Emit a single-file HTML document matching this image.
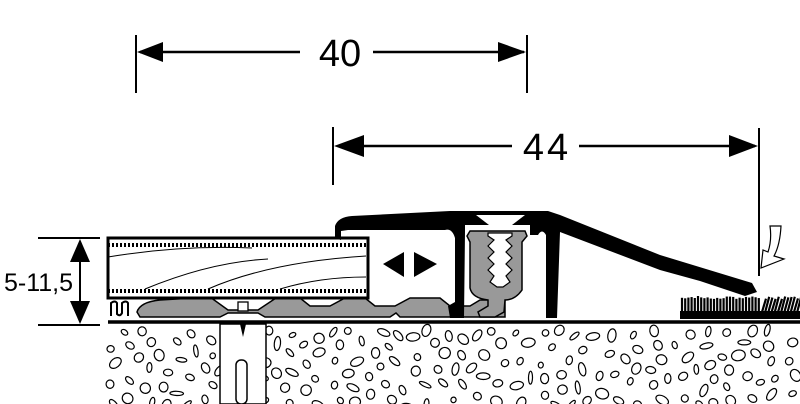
<!DOCTYPE html>
<html><head><meta charset="utf-8"><style>
html,body{margin:0;padding:0;background:#fff;}
svg{display:block;}
text{font-family:"Liberation Sans",sans-serif;fill:#000;}
</style></head><body>
<svg id="s" width="800" height="404" viewBox="0 0 800 404" xmlns="http://www.w3.org/2000/svg">
<!-- dimension 40 -->
<line x1="136" y1="35" x2="136" y2="93" stroke="#000" stroke-width="2"/>
<line x1="527" y1="35" x2="527" y2="93" stroke="#000" stroke-width="2"/>
<line x1="140" y1="52" x2="300" y2="52" stroke="#000" stroke-width="2.5"/>
<line x1="373" y1="52" x2="524" y2="52" stroke="#000" stroke-width="2.5"/>
<polygon points="137,52 163,42 163,62"/>
<polygon points="526,52 498,42 498,62"/>
<text x="340" y="66" font-size="38" text-anchor="middle">40</text>
<!-- dimension 44 -->
<line x1="333" y1="127" x2="333" y2="185" stroke="#000" stroke-width="2"/>
<line x1="759" y1="128" x2="759" y2="276" stroke="#000" stroke-width="2"/>
<line x1="338" y1="146" x2="512" y2="146" stroke="#000" stroke-width="2.5"/>
<line x1="579" y1="146" x2="755" y2="146" stroke="#000" stroke-width="2.5"/>
<polygon points="334,146 364,135 364,157"/>
<polygon points="758,146 729,135 729,157"/>
<text x="547" y="160" font-size="38" text-anchor="middle" letter-spacing="3">44</text>
<!-- height dim -->
<line x1="38" y1="238" x2="100" y2="238" stroke="#000" stroke-width="2"/>
<line x1="38" y1="325" x2="100" y2="325" stroke="#000" stroke-width="2"/>
<line x1="80" y1="250" x2="80" y2="312" stroke="#000" stroke-width="2"/>
<polygon points="80,239 70,262 90,262"/>
<polygon points="80,324 70,301 90,301"/>
<text x="4" y="291" font-size="25">5-11,5</text>
<!-- concrete -->
<g id="peb" fill="none" stroke="#000" stroke-width="1.2"></g>
<rect x="220" y="324" width="46" height="80" fill="#fff" stroke="#000" stroke-width="1.5"/>
<rect x="236" y="360" width="11" height="44" rx="5" fill="#fff" stroke="#000" stroke-width="1.5"/>
<polygon points="240,324 246,324 243,337"/>
<!-- floor line -->
<line x1="108" y1="322" x2="800" y2="322" stroke="#000" stroke-width="3.5"/>
<!-- base gray -->
<path d="M137,312 Q140,302 160,300 L210,297 L228,310 L258,310 L276,298 L300,298 L310,306 L330,306 L345,298 L365,298 L375,306 L395,306 L410,298 L440,298 L450,306 L470,306 L480,300 L500,300 L505,290 L510,290 L505,300 L505,317 L400,317 L396,313 L390,317 L265,317 L258,313 L228,313 L220,317 L140,317 Z" fill="#999" stroke="#000" stroke-width="1.5"/>
<rect x="238" y="302" width="10" height="9" fill="#fff" stroke="#000" stroke-width="1.3"/>
<path d="M111,316 L111,303 Q115,300 117,303 L117,314 Q120,317 122,313 L122,303 Q126,300 128,303 L128,316" fill="none" stroke="#000" stroke-width="2"/>
<!-- floor board -->
<rect x="108" y="238" width="260" height="60" fill="#fff" stroke="#000" stroke-width="3"/>
<path d="M108,245 h258 M108,291 h258" stroke="#000" stroke-width="4" stroke-dasharray="2,2"/>
<path d="M108,257 Q180,245 252,248 M145,289 Q210,262 268,259 M208,289 Q270,262 366,256 M280,289 Q320,277 366,277" fill="none" stroke="#000" stroke-width="1"/>
<!-- double arrow -->
<polygon points="383,264 404,252 404,277"/>
<polygon points="437,264 414,252 414,277"/>
<!-- profile top band -->
<path d="M335,238 L335,226 Q338,217 352,216 L450,211 L548,211 L560,215 L660,255 L752,283 L757,292 L745,296 L700,281 L660,270 L560,232 L557,318 L546,318 L546,235 Q542,228 538,235 L530,235 L530,225 L465,225 L465,232 L464,318 L450,318 L448,306 L455,302 L455,238 Q452,228 445,230 L348,230 L341,231 L341,240 Z" fill="#000"/>
<polygon points="476,215 525,215 512,225 489,225" fill="#fff"/>
<!-- screw housing -->
<path d="M470,231 L525,231 L527,236 L522,242 L522,290 Q515,300 505,300 L504,312 L495,317 L480,317 L478,312 L488,306 L488,300 Q472,298 470,288 L470,242 L467,236 Z" fill="#999" stroke="#000" stroke-width="1.5"/>
<path d="M488,233 L512,233 L512,236 L506,240 L512,246 L506,252 L512,258 L506,264 L512,270 L506,276 L510,282 L503,287 L497,287 L490,282 L494,276 L488,270 L494,264 L488,258 L494,252 L488,246 L494,240 L488,236 Z" fill="#fff" stroke="#000" stroke-width="1.2"/>
<!-- carpet -->
<rect x="680" y="311" width="120" height="8" fill="#000"/>
<g id="carp" stroke="#000" stroke-width="2.2"></g>
<!-- hook arrow -->
<path d="M770,226 L781,226 Q780,245 774,256 L784,259 L761,268 L763,250 L768,252 Q772,240 770,226 Z" fill="#fff" stroke="#000" stroke-width="1.2"/>
</svg>
<script>
var s=12345;function r(){s=(s*16807)%2147483647;return s/2147483647;}
var g=document.getElementById('peb'),ns='http://www.w3.org/2000/svg',pts=[];
for(var t=0;t<6000&&pts.length<190;t++){var x=110+r()*690,y=330+r()*76,ok=true;
for(var j=0;j<pts.length;j++){var dx=pts[j][0]-x,dy=pts[j][1]-y;if(dx*dx+dy*dy<196){ok=false;break;}}
if(!ok)continue;pts.push([x,y]);var e=document.createElementNS(ns,'ellipse');
var rx=2.5+r()*4.5,ry=2+r()*3.5;e.setAttribute('cx',x.toFixed(1));e.setAttribute('cy',y.toFixed(1));e.setAttribute('rx',rx.toFixed(1));e.setAttribute('ry',ry.toFixed(1));e.setAttribute('transform','rotate('+(r()*180).toFixed(0)+' '+x.toFixed(1)+' '+y.toFixed(1)+')');g.appendChild(e);}
var c=document.getElementById('carp');
for(var x=682;x<800;x+=3.2){var l=document.createElementNS(ns,'line');var sl=x>760?4:0;
l.setAttribute('x1',x);l.setAttribute('y1',312);l.setAttribute('x2',x+sl);l.setAttribute('y2',296+r()*3);c.appendChild(l);}
</script>
</body></html>
